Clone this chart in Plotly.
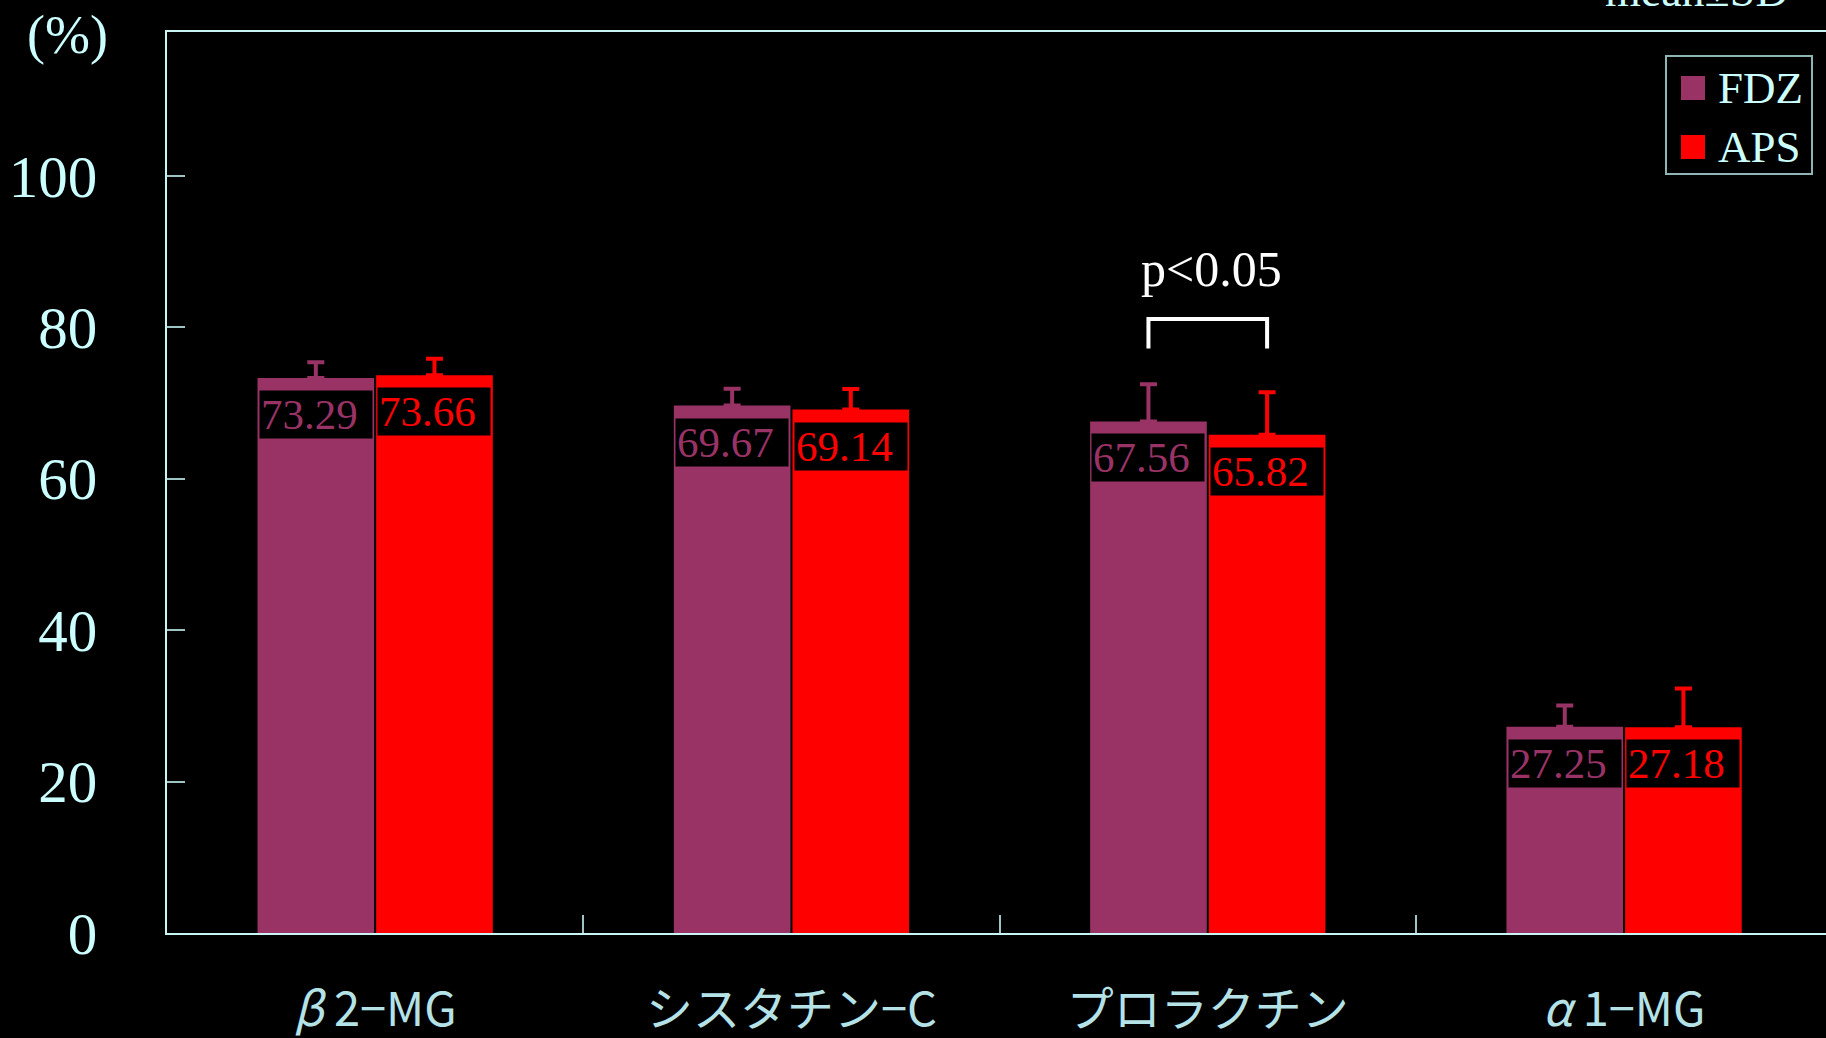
import plotly.graph_objects as go

# Recovery rates (%) of four proteins for two membranes, mean and SD
categories = ["<i>β</i> 2−MG", "シスタチン−C", "プロラクチン", "<i>α</i> 1−MG"]
series_names = ["FDZ", "APS"]
fdz_mean = [73.29, 69.67, 67.56, 27.25]
aps_mean = [73.66, 69.14, 65.82, 27.18]
fdz_sd = [2.1, 2.2, 4.9, 2.8]
aps_sd = [2.2, 2.7, 5.6, 5.1]
y_ticks = [0, 20, 40, 60, 80, 100]

colors = ["#993366", "#ff0000"]
axis_color = "#c8f4f4"
text_color = "#ccffff"
label_color = "#b4e2e6"
serif = "Liberation Serif, Times New Roman, serif"
gothic = "Noto Sans CJK JP, sans-serif"

x_pos = list(range(len(categories)))
BARGAP = 0.43
half_slot = (1 - BARGAP) / 4  # centre offset of each bar in a group

fig = go.Figure()
for name, means, sds, col in zip(series_names, [fdz_mean, aps_mean], [fdz_sd, aps_sd], colors):
    fig.add_trace(go.Bar(
        x=x_pos, y=means, name=name, marker=dict(color=col, line=dict(width=0)),
        error_y=dict(type="data", array=sds, arrayminus=[0] * len(sds), symmetric=False,
                     color=col, thickness=4, width=8.5),
        showlegend=False,
    ))

# value boxes near the top of each bar
for k, (means, col) in enumerate(zip([fdz_mean, aps_mean], colors)):
    off = -half_slot if k == 0 else half_slot
    for i, v in enumerate(means):
        fig.add_annotation(
            x=i + off, y=v, xref="x", yref="y", text=f"{v:.2f}",
            yanchor="top", yshift=-12, xanchor="center", align="left",
            width=110, height=45, borderpad=1, bgcolor="#000000",
            showarrow=False, font=dict(family=serif, size=43, color=col),
        )

# significance bracket between the two プロラクチン bars
x_l, x_r = 2 - half_slot, 2 + half_slot
br_top, br_leg = 81.1, 77.2
fig.add_shape(type="path", xref="x", yref="y",
              path=f"M {x_l},{br_leg} L {x_l},{br_top} L {x_r},{br_top} L {x_r},{br_leg}",
              line=dict(color="#ffffff", width=4))
fig.add_annotation(x=2.01, y=br_top + 6.6, xref="x", yref="y", text="p<0.05",
                   showarrow=False, yanchor="middle",
                   font=dict(family=serif, size=50, color="#ffffff"))


def px_x(p):
    return (p - 167) / 1659


def px_y(p):
    return (933 - p) / 901


# y-axis unit and statistics note
fig.add_annotation(xref="paper", yref="paper", x=px_x(67), y=px_y(35),
                   xanchor="center", yanchor="middle", text="(%)", showarrow=False,
                   font=dict(family=serif, size=54, color=text_color))
fig.add_annotation(xref="paper", yref="paper", x=px_x(1603), y=px_y(18),
                   xanchor="left", yanchor="bottom", text="mean±SD", showarrow=False,
                   font=dict(family=serif, size=46, color=text_color))

# legend box with square swatches
fig.add_shape(type="rect", xref="paper", yref="paper",
              x0=px_x(1666), x1=px_x(1812), y0=px_y(56), y1=px_y(174),
              line=dict(color="#8fb4b4", width=2), fillcolor="#000000")
for k, (name, col) in enumerate(zip(series_names, colors)):
    cy = 88 + 59 * k
    fig.add_shape(type="rect", xref="paper", yref="paper",
                  x0=px_x(1681), x1=px_x(1705), y0=px_y(cy - 12), y1=px_y(cy + 12),
                  line=dict(width=0), fillcolor=col)
    fig.add_annotation(xref="paper", yref="paper", x=px_x(1716), y=px_y(cy),
                       xanchor="left", yanchor="middle", text=name, showarrow=False,
                       font=dict(family=serif, size=45, color=text_color))

fig.update_layout(
    width=1826, height=1038,
    margin=dict(l=167, r=0, t=32, b=105),
    paper_bgcolor="#000000", plot_bgcolor="#000000",
    barmode="group", bargap=BARGAP, bargroupgap=0.017,
    showlegend=False,
    xaxis=dict(
        range=[-0.5, 3.485], tickmode="array", tickvals=x_pos, ticktext=categories,
        ticks="", showgrid=False, zeroline=False, automargin=False,
        showline=True, linecolor=axis_color, linewidth=2, mirror=True,
        tickfont=dict(family=gothic, size=47, color=label_color),
        ticklabelstandoff=35,
        minor=dict(tickmode="array", tickvals=[0.5, 1.5, 2.5], ticks="inside",
                   ticklen=18, tickwidth=2, tickcolor="#9fc4c4"),
    ),
    yaxis=dict(
        range=[0, 119], tickmode="array", tickvals=y_ticks,
        ticks="inside", ticklen=18, tickwidth=2, tickcolor="#9fc4c4",
        showgrid=False, zeroline=False, automargin=False,
        showline=True, linecolor=axis_color, linewidth=2,
        tickfont=dict(family=serif, size=59, color=text_color),
        ticklabelstandoff=56,
    ),
)

fig.write_html("out.html")
